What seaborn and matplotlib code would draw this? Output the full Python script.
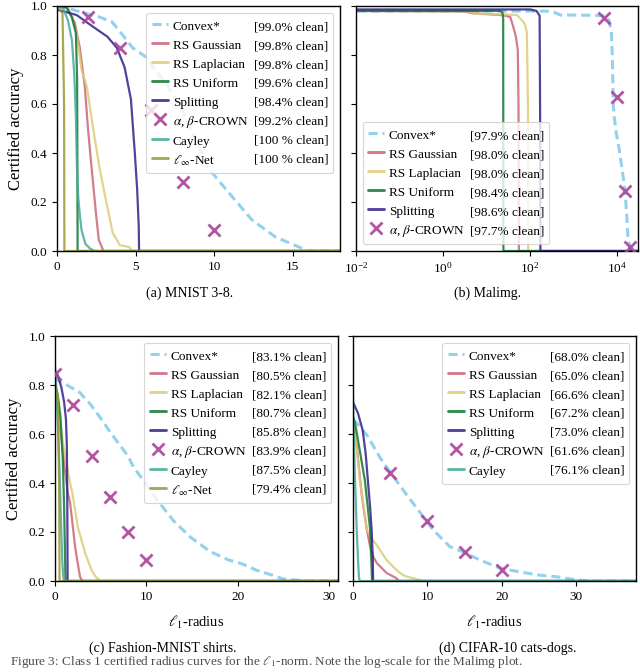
import matplotlib
matplotlib.use("Agg")
import matplotlib.pyplot as plt
import seaborn as sns
import pandas as pd
from matplotlib.lines import Line2D
from matplotlib.ticker import FixedLocator, NullLocator, FormatStrFormatter

# ---------------- data ----------------
METHODS = ["Convex*", "RS Gaussian", "RS Laplacian", "RS Uniform", "Splitting",
           r"$\alpha$, $\beta$-CROWN", "Cayley", r"$\ell_\infty$-Net"]

# (a) MNIST 3-8
A_CONVEX_R = [0, 0.5, 1.0, 1.8, 2.7, 3.5, 4.2, 4.8, 5.7, 6.1, 7.0, 8.0, 9.0, 9.6, 10.9, 12.4, 13.9, 15.4, 15.9]
A_CONVEX_ACC = [1.0, 0.995, 0.985, 0.97, 0.955, 0.935, 0.88, 0.83, 0.79, 0.75, 0.68, 0.57, 0.43, 0.34, 0.24, 0.127, 0.057, 0.016, 0.0]
A_GAUSS_R = [0, 0.6, 1.14, 1.45, 1.77, 1.97, 2.2, 2.5, 2.66, 2.85, 2.95]
A_GAUSS_ACC = [1.0, 0.995, 0.93, 0.83, 0.67, 0.5, 0.34, 0.14, 0.045, 0.016, 0.0]
A_LAP_R = [0, 0.7, 1.24, 1.56, 1.9, 2.3, 2.7, 3.15, 3.55, 4.0, 4.6, 4.75]
A_LAP_ACC = [1.0, 0.995, 0.89, 0.74, 0.67, 0.5, 0.34, 0.195, 0.073, 0.024, 0.016, 0.0]
A_UNI_R = [0, 0.6, 0.95, 1.2, 1.28, 1.3, 1.31]
A_UNI_ACC = [1.0, 0.995, 0.955, 0.89, 0.7, 0.3, 0.0]
A_SPLIT_R = [0, 0.6, 1.25, 2.3, 3.2, 3.8, 4.3, 4.7, 4.95, 5.1, 5.2, 5.22]
A_SPLIT_ACC = [0.985, 0.975, 0.963, 0.915, 0.875, 0.83, 0.75, 0.62, 0.4, 0.25, 0.1, 0.0]
A_CROWN_R = [2, 4, 6, 8, 10]
A_CROWN_ACC = [0.955, 0.83, 0.575, 0.28, 0.086]
A_CAYLEY_R = [0, 0.4, 0.7, 0.95, 1.1, 1.2, 1.27, 1.35, 1.45, 1.56, 1.8, 2.1, 2.4]
A_CAYLEY_ACC = [1.0, 0.99, 0.94, 0.86, 0.72, 0.55, 0.34, 0.22, 0.15, 0.086, 0.03, 0.01, 0.0]
A_LINF_R = [0, 0.35, 0.45, 0.47]
A_LINF_ACC = [1.0, 0.97, 0.6, 0.0]
A_CLEAN = ["[99.0% clean]", "[99.8% clean]", "[99.8% clean]", "[99.6% clean]",
           "[98.4% clean]", "[99.2% clean]", "[100 % clean]", "[100 % clean]"]

# (b) Malimg (log x)
B_CONVEX_R = [0.005, 250, 350, 500, 1000, 3000, 5500, 6500, 7300, 7700, 7900, 8100, 8500, 9500, 11000, 13000, 15000, 16500, 17500, 19500, 21000]
B_CONVEX_ACC = [0.979, 0.979, 0.975, 0.963, 0.963, 0.962, 0.96, 0.94, 0.9, 0.8, 0.7, 0.6, 0.55, 0.48, 0.42, 0.33, 0.25, 0.15, 0.06, 0.012, 0.0]
B_GAUSS_R = [0.005, 3, 5, 15, 25, 35, 41, 47, 52, 54, 55]
B_GAUSS_ACC = [0.98, 0.978, 0.97, 0.965, 0.962, 0.955, 0.915, 0.875, 0.82, 0.6, 0.0]
B_LAP_R = [0.005, 4, 6, 30, 50, 60, 70, 78, 84, 89, 90]
B_LAP_ACC = [0.98, 0.978, 0.968, 0.965, 0.963, 0.948, 0.935, 0.92, 0.89, 0.6, 0.0]
B_UNI_R = [0.005, 20, 23, 24, 24.3]
B_UNI_ACC = [0.98, 0.98, 0.975, 0.95, 0.0]
B_SPLIT_R = [0.005, 100, 140, 165, 170, 172]
B_SPLIT_ACC = [0.986, 0.986, 0.98, 0.96, 0.5, 0.0]
B_CROWN_R = [5000, 10000, 15000, 20000]
B_CROWN_ACC = [0.95, 0.63, 0.245, 0.015]
B_CLEAN = ["[97.9% clean]", "[98.0% clean]", "[98.0% clean]", "[98.4% clean]",
           "[98.6% clean]", "[97.7% clean]"]

# (c) Fashion-MNIST shirts
C_CONVEX_R = [0, 0.3, 1.3, 2.7, 3.8, 4.9, 6.0, 7.0, 8.0, 8.6, 9.7, 11.2, 13.0, 14.8, 17.0, 19.0, 20.5, 22.0, 23.8, 25.0, 26.0, 27.5]
C_CONVEX_ACC = [0.835, 0.82, 0.80, 0.77, 0.725, 0.67, 0.61, 0.56, 0.51, 0.465, 0.41, 0.33, 0.245, 0.18, 0.12, 0.086, 0.07, 0.045, 0.024, 0.008, 0.005, 0.0]
C_GAUSS_R = [0, 0.2, 0.55, 1.1, 1.4, 1.65, 1.9, 2.2, 2.5, 2.75, 3.0]
C_GAUSS_ACC = [0.805, 0.75, 0.63, 0.45, 0.36, 0.32, 0.24, 0.14, 0.07, 0.016, 0.0]
C_LAP_R = [0, 0.33, 1.1, 1.65, 1.9, 2.5, 3.3, 4.0, 4.4, 4.75, 4.9]
C_LAP_ACC = [0.821, 0.70, 0.51, 0.40, 0.36, 0.22, 0.114, 0.045, 0.02, 0.008, 0.0]
C_UNI_R = [0, 0.3, 0.6, 0.85, 1.0, 1.1, 1.15]
C_UNI_ACC = [0.807, 0.76, 0.67, 0.5, 0.3, 0.1, 0.0]
C_SPLIT_R = [0, 0.3, 0.7, 1.0, 1.2, 1.3, 1.35, 1.38]
C_SPLIT_ACC = [0.858, 0.84, 0.79, 0.73, 0.66, 0.55, 0.3, 0.0]
C_CROWN_R = [0, 2, 4, 6, 8, 10]
C_CROWN_ACC = [0.845, 0.72, 0.51, 0.343, 0.20, 0.086]
C_CAYLEY_R = [0, 0.1, 0.3, 0.5, 0.65, 0.8, 0.9, 1.0]
C_CAYLEY_ACC = [0.875, 0.82, 0.65, 0.45, 0.25, 0.08, 0.02, 0.0]
C_LINF_R = [0, 0.3, 0.45, 0.5]
C_LINF_ACC = [0.794, 0.75, 0.4, 0.0]
C_CLEAN = ["[83.1% clean]", "[80.5% clean]", "[82.1% clean]", "[80.7% clean]",
           "[85.8% clean]", "[83.9% clean]", "[87.5% clean]", "[79.4% clean]"]

# (d) CIFAR-10 cats-dogs
D_CONVEX_R = [0, 0.5, 2.0, 3.6, 5.1, 7.0, 9.0, 10.7, 13.0, 14.7, 17.0, 19.7, 22.4, 25.0, 27.7, 30.0, 32.0]
D_CONVEX_ACC = [0.66, 0.645, 0.59, 0.505, 0.44, 0.36, 0.28, 0.21, 0.14, 0.12, 0.086, 0.053, 0.037, 0.024, 0.016, 0.004, 0.0]
D_GAUSS_R = [0, 0.5, 1.2, 1.8, 2.3, 2.7, 3.2, 4.5, 5.3, 5.9, 6.1]
D_GAUSS_ACC = [0.65, 0.55, 0.345, 0.22, 0.14, 0.1, 0.073, 0.033, 0.02, 0.01, 0.0]
D_LAP_R = [0, 0.27, 0.94, 1.87, 2.5, 3.0, 4.5, 5.5, 6.3, 7.0, 8.0, 9.4]
D_LAP_ACC = [0.666, 0.615, 0.41, 0.21, 0.17, 0.155, 0.086, 0.055, 0.033, 0.02, 0.012, 0.0]
D_UNI_R = [0, 0.3, 0.67, 1.6, 2.3, 2.5, 2.55]
D_UNI_ACC = [0.672, 0.64, 0.575, 0.41, 0.21, 0.05, 0.0]
D_SPLIT_R = [0, 0.67, 1.3, 1.7, 2.0, 2.3, 2.5, 2.65, 2.7]
D_SPLIT_ACC = [0.73, 0.685, 0.615, 0.52, 0.41, 0.3, 0.21, 0.1, 0.0]
D_CROWN_R = [5, 10, 15, 20]
D_CROWN_ACC = [0.44, 0.245, 0.12, 0.045]
D_CAYLEY_R = [0, 0.1, 0.27, 0.5, 0.7, 0.8, 0.9]
D_CAYLEY_ACC = [0.761, 0.6, 0.41, 0.21, 0.07, 0.016, 0.0]
D_CLEAN = ["[68.0% clean]", "[65.0% clean]", "[66.6% clean]", "[67.2% clean]",
           "[73.0% clean]", "[61.6% clean]", "[76.1% clean]"]

CAPTIONS = ["(a) MNIST 3-8.", "(b) Malimg.", "(c) Fashion-MNIST shirts.", "(d) CIFAR-10 cats-dogs."]
FIG_CAPTION = r"Figure 3: Class 1 certified radius curves for the $\ell_1$-norm. Note the log-scale for the Malimg plot."

# ---------------- style ----------------
COLORS = ["#88CCEE", "#CC6677", "#DDCC77", "#117733", "#332288", "#AA4499", "#44AA99", "#999933"]

sns.set_theme(style="ticks", context="paper")
plt.rcParams.update({
    "font.family": ["Liberation Serif", "DejaVu Serif"],
    "mathtext.fontset": "stix",
    "font.size": 9.5,
    "axes.labelsize": 10.5,
    "xtick.labelsize": 9.5,
    "ytick.labelsize": 9.5,
    "axes.edgecolor": "black",
    "axes.linewidth": 1.0,
    "xtick.color": "black",
    "ytick.color": "black",
    "xtick.major.size": 3.5,
    "ytick.major.size": 3.5,
    "xtick.major.width": 0.8,
    "ytick.major.width": 0.8,
    "axes.labelcolor": "black",
    "text.color": "black",
})

fig = plt.figure(figsize=(6.4, 6.72), dpi=100)
W, H = 640.0, 672.0


def axes_px(l, r, t, b):
    return fig.add_axes([l / W, 1 - b / H, (r - l) / W, (b - t) / H])


ax_a = axes_px(57, 340, 6, 251)
ax_b = axes_px(356, 638, 6, 251)
ax_c = axes_px(55, 338, 336, 581)
ax_d = axes_px(353, 636, 336, 581)

LW = 1.6
ALPHA = 0.85
DASH = (0, (3.0, 1.6))


def draw(ax, curves, crown, xmax, cleans, names_idx, loc):
    for idx, (r, a) in curves:
        df = pd.DataFrame({"r": list(r) + [xmax], "acc": list(a) + [0.0]})
        if idx == 0:
            sns.lineplot(data=df, x="r", y="acc", ax=ax, estimator=None, sort=False,
                         color=COLORS[0], lw=2.2, alpha=0.9)
            ax.lines[-1].set_linestyle(DASH)
        else:
            sns.lineplot(data=df, x="r", y="acc", ax=ax, estimator=None, sort=False,
                         color=COLORS[idx], lw=LW, alpha=ALPHA)
        if idx == 4:
            cdf = pd.DataFrame({"r": crown[0], "acc": crown[1]})
            sns.scatterplot(data=cdf, x="r", y="acc", ax=ax, marker="x", s=75,
                            color=COLORS[5], linewidth=2.0, zorder=3, alpha=0.9)
    handles = []
    for idx in names_idx:
        if idx == 0:
            h = Line2D([], [], color=COLORS[0], lw=2.2, alpha=0.9, linestyle=DASH)
        elif idx == 5:
            h = Line2D([], [], color=COLORS[5], lw=0, marker="x", markersize=8,
                       markeredgewidth=2.0, alpha=0.9)
        else:
            h = Line2D([], [], color=COLORS[idx], lw=LW * 1.3, alpha=ALPHA)
        handles.append(h)
    blanks = [Line2D([], [], linestyle="none") for _ in names_idx]
    labels = [METHODS[i] for i in names_idx] + list(cleans)
    ax.legend(handles + blanks, labels, ncol=2, loc=loc, fontsize=9.5,
              handlelength=1.2, handleheight=1.45, handletextpad=0.4,
              columnspacing=-1.25, labelspacing=0.25, borderpad=0.4,
              frameon=True, framealpha=0.8, edgecolor="0.8", fancybox=True)
    ax.set_ylim(0, 1)
    ax.set_xlabel("")
    ax.set_ylabel("")
    ax.yaxis.set_major_locator(FixedLocator([0, 0.2, 0.4, 0.6, 0.8, 1.0]))
    ax.yaxis.set_major_formatter(FormatStrFormatter("%.1f"))
    for s in ax.spines.values():
        s.set_visible(True)
        s.set_color("black")


draw(ax_a, [(0, (A_CONVEX_R, A_CONVEX_ACC)), (1, (A_GAUSS_R, A_GAUSS_ACC)),
            (2, (A_LAP_R, A_LAP_ACC)), (3, (A_UNI_R, A_UNI_ACC)),
            (4, (A_SPLIT_R, A_SPLIT_ACC)), (6, (A_CAYLEY_R, A_CAYLEY_ACC)),
            (7, (A_LINF_R, A_LINF_ACC))],
     (A_CROWN_R, A_CROWN_ACC), 18, A_CLEAN, [0, 1, 2, 3, 4, 5, 6, 7], "upper right")
ax_a.set_xlim(0, 18)
ax_a.xaxis.set_major_locator(FixedLocator([0, 5, 10, 15]))
ax_a.set_ylabel("Certified accuracy", fontsize=12, labelpad=5)

ax_b.set_xscale("log")
draw(ax_b, [(0, (B_CONVEX_R, B_CONVEX_ACC)), (1, (B_GAUSS_R, B_GAUSS_ACC)),
            (2, (B_LAP_R, B_LAP_ACC)), (3, (B_UNI_R, B_UNI_ACC)),
            (4, (B_SPLIT_R, B_SPLIT_ACC))],
     (B_CROWN_R, B_CROWN_ACC), 3e4, B_CLEAN, [0, 1, 2, 3, 4, 5], "lower left")
ax_b.set_xlim(1e-2, 3e4)
ax_b.xaxis.set_major_locator(FixedLocator([1e-2, 1, 1e2, 1e4]))
ax_b.xaxis.set_minor_locator(NullLocator())
ax_b.set_yticklabels([])

draw(ax_c, [(0, (C_CONVEX_R, C_CONVEX_ACC)), (1, (C_GAUSS_R, C_GAUSS_ACC)),
            (2, (C_LAP_R, C_LAP_ACC)), (3, (C_UNI_R, C_UNI_ACC)),
            (4, (C_SPLIT_R, C_SPLIT_ACC)), (6, (C_CAYLEY_R, C_CAYLEY_ACC)),
            (7, (C_LINF_R, C_LINF_ACC))],
     (C_CROWN_R, C_CROWN_ACC), 31, C_CLEAN, [0, 1, 2, 3, 4, 5, 6, 7], "upper right")
ax_c.set_xlim(0, 31)
ax_c.xaxis.set_major_locator(FixedLocator([0, 10, 20, 30]))
ax_c.set_ylabel("Certified accuracy", fontsize=12, labelpad=5)
ax_c.set_xlabel(r"$\ell_1$-radius", labelpad=8)

draw(ax_d, [(0, (D_CONVEX_R, D_CONVEX_ACC)), (1, (D_GAUSS_R, D_GAUSS_ACC)),
            (2, (D_LAP_R, D_LAP_ACC)), (3, (D_UNI_R, D_UNI_ACC)),
            (4, (D_SPLIT_R, D_SPLIT_ACC)), (6, (D_CAYLEY_R, D_CAYLEY_ACC))],
     (D_CROWN_R, D_CROWN_ACC), 38, D_CLEAN, [0, 1, 2, 3, 4, 5, 6], "upper right")
ax_d.set_xlim(0, 38)
ax_d.xaxis.set_major_locator(FixedLocator([0, 10, 20, 30]))
ax_d.set_yticklabels([])
ax_d.set_xlabel(r"$\ell_1$-radius", labelpad=8)

for (cx, cy), txt in zip([(190, 293), (487, 293), (163, 648), (508, 648)], CAPTIONS):
    fig.text(cx / W, 1 - cy / H, txt, ha="center", va="center", fontsize=10)

fig.text(10 / W, 2 / H, FIG_CAPTION, ha="left", va="bottom", fontsize=9.5, color="0.3")

fig.savefig("out.png", dpi=100)
